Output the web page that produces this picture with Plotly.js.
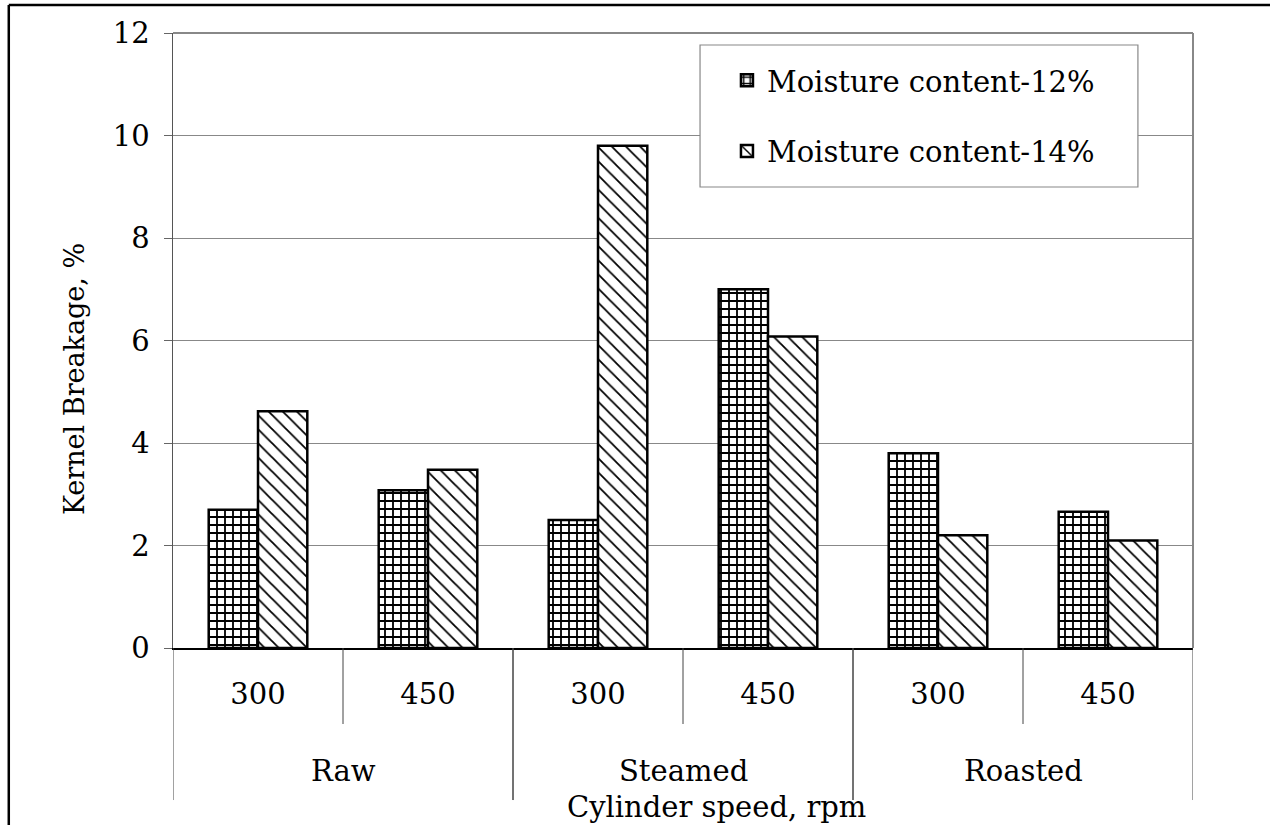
<!DOCTYPE html>
<html>
<head>
<meta charset="utf-8">
<script src="https://cdn.plot.ly/plotly-3.0.1.min.js"></script>
<style>html,body{margin:0;padding:0;background:#fff;}#chart{width:1270px;height:825px;}</style>
</head>
<body>
<div id="chart"></div>
<script>
// ---- data ----
const treatments = ["Raw", "Raw", "Steamed", "Steamed", "Roasted", "Roasted"];
const speeds = ["300", "450", "300", "450", "300", "450"];
const mc12 = [2.7, 3.08, 2.5, 7.0, 3.8, 2.66];
const mc14 = [4.62, 3.48, 9.8, 6.08, 2.2, 2.1];
const seriesNames = ["Moisture content-12%", "Moisture content-14%"];
const yTicks = [0, 2, 4, 6, 8, 10, 12];

const FONT = "DejaVu Serif";
const FS = 29;
const idx = speeds.map((_, i) => i);

const trace12 = {
  type: "bar", x: idx, y: mc12, name: seriesNames[0], legendgroup: "a",
  marker: {color: "#ffffff", line: {color: "#000", width: 2.5},
           pattern: {shape: "+", fgcolor: "#000", bgcolor: "#fff", size: 8, solidity: 0.4}},
  hoverinfo: "skip"
};
const trace14 = {
  type: "bar", x: idx, y: mc14, name: seriesNames[1], legendgroup: "b",
  marker: {color: "#ffffff", line: {color: "#000", width: 2.5},
           pattern: {shape: "\\", fgcolor: "#000", bgcolor: "#fff", size: 10, solidity: 0.18}},
  hoverinfo: "skip"
};

// group labels and divider positions from the data
const groups = [];
treatments.forEach((t, i) => {
  let g = groups.find(o => o.name === t);
  if (!g) { g = {name: t, idx: []}; groups.push(g); }
  g.idx.push(i);
});

const shapes = [];
const annotations = [];
groups.forEach(g => {
  for (let k = 0; k < g.idx.length - 1; k++) {
    const xb = (g.idx[k] + g.idx[k + 1]) / 2;
    shapes.push({type: "line", xref: "x", yref: "paper", x0: xb, x1: xb, y0: 0, y1: -0.1236,
                 line: {color: "#444", width: 1}});
  }
  const first = g.idx[0], last = g.idx[g.idx.length - 1];
  [first - 0.5, last + 0.5].forEach(xb => {
    shapes.push({type: "line", xref: "x", yref: "paper", x0: xb, x1: xb, y0: 0, y1: -0.2472,
                 line: {color: "#444", width: 1}});
  });
  annotations.push({xref: "x", yref: "paper", x: (first + last) / 2, y: -0.2, text: g.name,
                    showarrow: false, font: {family: FONT, size: FS, color: "#000"},
                    xanchor: "center", yanchor: "middle"});
});
// outer frame lines
shapes.push({type: "line", xref: "paper", yref: "paper", x0: -0.161, x1: 1.1, y0: 1.0455, y1: 1.0455,
             line: {color: "#000", width: 2.5}});
shapes.push({type: "line", xref: "paper", yref: "paper", x0: -0.161, x1: -0.161, y0: 1.0455, y1: -0.3,
             line: {color: "#000", width: 2.5}});
// plot border top & right (gray)
shapes.push({type: "line", xref: "paper", yref: "paper", x0: 0, x1: 1, y0: 1, y1: 1,
             line: {color: "#888", width: 2}});
shapes.push({type: "line", xref: "paper", yref: "paper", x0: 1, x1: 1, y0: 0, y1: 1,
             line: {color: "#888", width: 2}});
// legend frame
shapes.push({type: "rect", xref: "paper", yref: "paper", layer: "above",
             x0: 0.5167, x1: 0.946, y0: 0.7496, y1: 0.9805,
             line: {color: "#888", width: 1.2}, fillcolor: "#fff"});

annotations.push({xref: "paper", yref: "paper", x: 0.533, y: -0.2585, text: "Cylinder speed, rpm",
                  showarrow: false, font: {family: FONT, size: FS, color: "#000"},
                  xanchor: "center", yanchor: "middle"});
annotations.push({xref: "paper", yref: "paper", x: -0.0965, y: 0.4365, text: "Kernel Breakage, %",
                  textangle: -90, showarrow: false, font: {family: FONT, size: 27, color: "#000"},
                  xanchor: "center", yanchor: "middle"});

const layout = {
  width: 1270, height: 825,
  margin: {l: 173, r: 77, t: 33, b: 177, pad: 0},
  paper_bgcolor: "#fff", plot_bgcolor: "#fff",
  font: {family: FONT, color: "#000"},
  barmode: "group", bargap: 0.42, bargroupgap: 0,
  showlegend: true,
  legend: {x: 0.5431, y: 0.9642, xanchor: "left", yanchor: "top",
           borderwidth: 0, bgcolor: "rgba(0,0,0,0)",
           font: {family: FONT, size: FS, color: "#000"},
           tracegroupgap: 30, traceorder: "grouped"},
  xaxis: {range: [-0.5, 5.5], tickvals: idx, ticktext: speeds, ticks: "",
          tickfont: {family: FONT, size: FS, color: "#000"}, ticklabelstandoff: 19,
          showgrid: false, zeroline: false, showline: true, linecolor: "#000", linewidth: 2,
          fixedrange: true},
  yaxis: {range: [0, 12], tickvals: yTicks, ticks: "outside", ticklen: 8, tickcolor: "#666",
          tickfont: {family: FONT, size: FS, color: "#000"}, ticklabelstandoff: 8,
          showgrid: true, gridcolor: "#888", gridwidth: 1, zeroline: false,
          showline: true, linecolor: "#555", linewidth: 1.5, fixedrange: true},
  shapes: shapes,
  annotations: annotations
};

Plotly.newPlot("chart", [trace12, trace14], layout, {displayModeBar: false, staticPlot: true});
</script>
</body>
</html>
